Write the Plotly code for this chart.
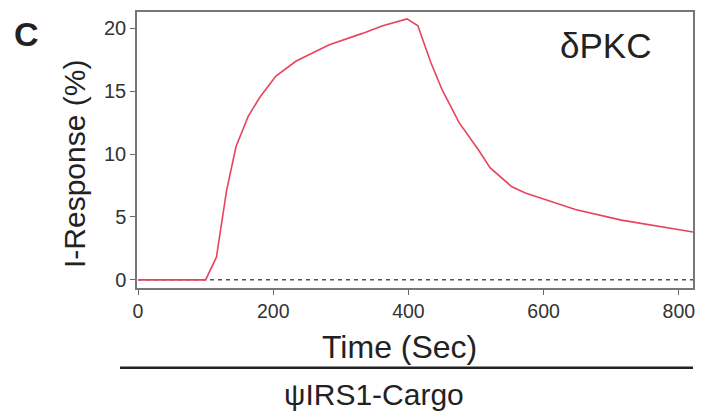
import plotly.graph_objects as go

time_sec = [0, 20, 40, 60, 80, 100, 116, 131, 145, 163, 180, 204, 234, 283, 332, 362, 398, 414, 433, 450, 475, 504, 521, 553, 573, 647, 715, 821]
response = [0, 0, 0, 0, 0, 0, 1.8, 7.1, 10.6, 13.0, 14.5, 16.2, 17.4, 18.7, 19.6, 20.2, 20.75, 20.2, 17.3, 15.1, 12.5, 10.3, 8.9, 7.4, 6.9, 5.6, 4.75, 3.8]

baseline_x = [0, 821]
baseline_y = [0, 0]

x_ticks = [0, 200, 400, 600, 800]
y_ticks = [0, 5, 10, 15, 20]

FONT = "Liberation Sans, Arial, sans-serif"

fig = go.Figure()
fig.add_trace(go.Scatter(x=baseline_x, y=baseline_y, mode="lines",
                         line=dict(color="#555555", width=1.5, dash="4px,4px"),
                         hoverinfo="skip", showlegend=False))
fig.add_trace(go.Scatter(x=time_sec, y=response, mode="lines",
                         line=dict(color="#e8435c", width=1.6),
                         showlegend=False))

fig.update_layout(
    width=702, height=412,
    margin=dict(l=137, r=7, t=12, b=124),
    paper_bgcolor="white", plot_bgcolor="white",
    font=dict(family=FONT, color="#333333"),
    xaxis=dict(range=[-1.5, 821], tickvals=x_ticks, ticks="outside", ticklen=5,
               tickcolor="#666666", showline=True, linecolor="#777777", linewidth=1.5,
               mirror=True, showgrid=False, zeroline=False,
               tickfont=dict(size=19.5, color="#333333", family=FONT)),
    yaxis=dict(range=[-0.65, 21.3], tickvals=y_ticks, ticks="outside", ticklen=5,
               tickcolor="#666666", showline=True, linecolor="#777777", linewidth=1.5,
               mirror=True, showgrid=False, zeroline=False,
               tickfont=dict(size=20, color="#333333", family=FONT)),
)

fig.add_annotation(text="<b>C</b>", xref="paper", yref="paper", x=-0.199, y=1.0,
                   xanchor="center", yanchor="middle", yshift=-22,
                   showarrow=False, font=dict(size=34, color="#222222", family=FONT))
fig.add_annotation(text="δPKC", xref="paper", yref="paper", x=0.928, y=1.0,
                   xanchor="right", yanchor="middle", yshift=-33,
                   showarrow=False, font=dict(size=35, color="#222222", family=FONT))
fig.add_annotation(text="I-Response (%)", xref="paper", yref="paper", x=0, y=0.5,
                   xanchor="center", yanchor="middle", xshift=-63, yshift=-14, textangle=-90,
                   showarrow=False, font=dict(size=30, color="#222222", family=FONT))
fig.add_annotation(text="Time (Sec)", xref="paper", yref="paper", x=0.473, y=0,
                   xanchor="center", yanchor="middle", yshift=-59,
                   showarrow=False, font=dict(size=32, color="#222222", family=FONT))
fig.add_annotation(text="ψIRS1-Cargo", xref="paper", yref="paper", x=0.4265, y=0,
                   xanchor="center", yanchor="bottom", yshift=-124, borderpad=0,
                   showarrow=False, font=dict(size=30, color="#222222", family=FONT))
fig.add_shape(type="line", xref="paper", yref="paper", x0=-0.0305, x1=1.0, y0=-0.289, y1=-0.289,
              line=dict(color="#222222", width=2.5))

fig.write_html("out.html", config={"displayModeBar": False},
               post_script="document.body.style.margin='0';document.body.style.overflow='hidden';")
